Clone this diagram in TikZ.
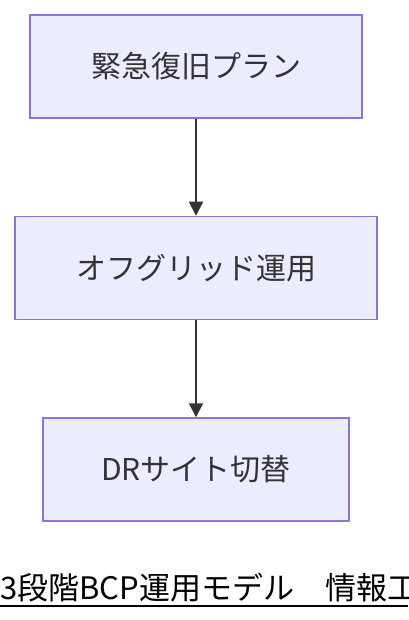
\documentclass[tikz,border=0pt]{standalone}
\usepackage{fontspec}
\setmainfont{Noto Sans CJK JP}
\usetikzlibrary{positioning,arrows.meta}
\definecolor{boxfill}{HTML}{ECECFF}
\definecolor{boxline}{HTML}{9370DB}
\definecolor{ink}{HTML}{333333}

\begin{document}
\begin{tikzpicture}[x=1pt, y=-1pt,
    box/.style={draw=boxline, fill=boxfill, line width=1.5pt, minimum height=103pt,
                inner sep=0pt, text=ink, font=\fontsize{30}{34}\selectfont},
    flow/.style={draw=ink, line width=1.6pt, -{Triangle[width=14pt,length=14pt]}}]
    \useasboundingbox (0,0) rectangle (408,620);

    % the three steps
    \node[box, minimum width=332pt] (plan) at (196,66.5) {緊急復旧プラン};
    \node[box, minimum width=362pt, below=97pt of plan] (grid) {オフグリッド運用};
    \node[box, minimum width=306pt, below=97pt of grid] (dr) {DRサイト切替};

    \draw[flow] (plan) -- (grid);
    \draw[flow] (grid) -- (dr);

    % caption, cut off at the right edge
    \begin{scope}
        \clip (0,0) rectangle (408,620);
        \node[anchor=base west, inner sep=0pt, font=\fontsize{31}{34}\selectfont] (caption) at (0,599) {3段階BCP運用モデル　情報工};
        \draw[line width=2pt] (0,606) -- (408,606);
    \end{scope}
\end{tikzpicture}
\end{document}
